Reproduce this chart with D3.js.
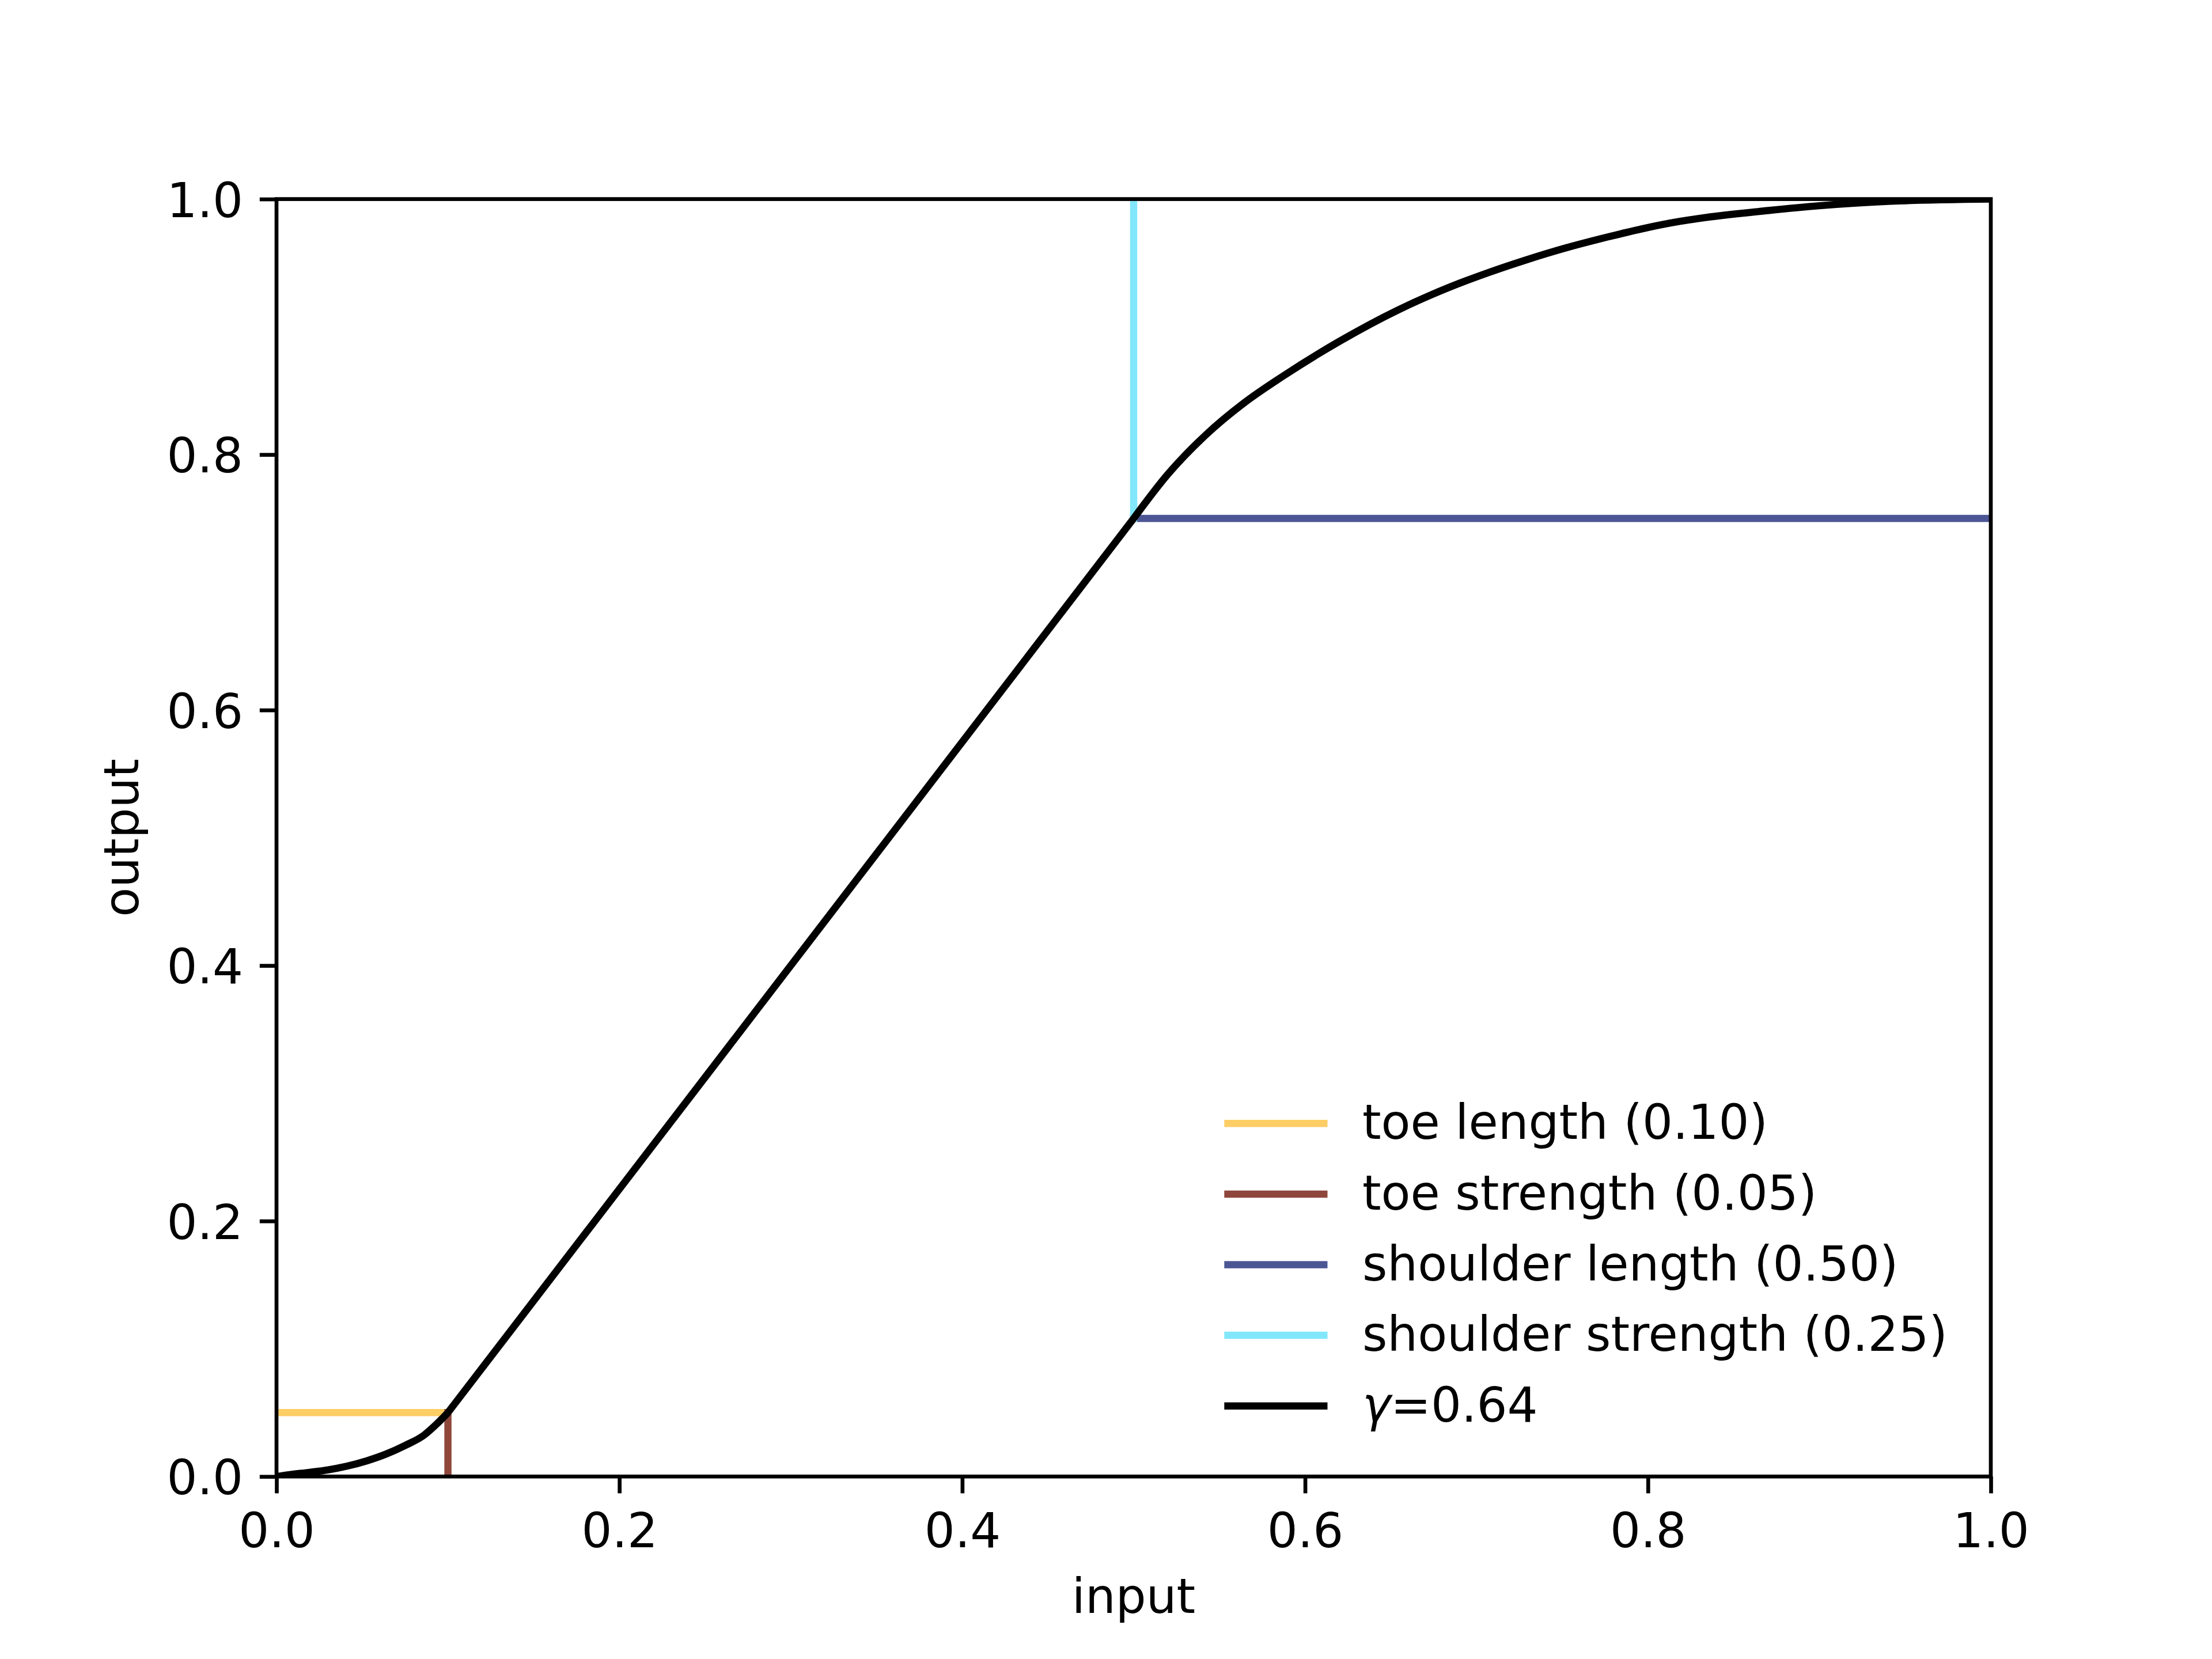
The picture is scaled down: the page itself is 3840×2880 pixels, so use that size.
<!DOCTYPE html>
<html>
<head>
    <meta charset="utf-8">
    <title>tone curve</title>
    <style>
        body { margin: 0; background: #fff; }
        text { font-family: "DejaVu Sans", sans-serif; }
    </style>
</head>
<body>

<main></main>

<script src="https://cdn.jsdelivr.net/npm/d3@7"></script>
<script>
    // curve (input -> output)
    // toe part, up to the toe length
    var toeX = [0, 0.0079, 0.019, 0.0302, 0.0414, 0.0527, 0.0638, 0.075, 0.0862, 0.0918, 0.1];
    var toeY = [0, 0.0015, 0.0032, 0.0052, 0.0082, 0.0123, 0.0175, 0.0243, 0.0325, 0.039, 0.05];
    // shoulder part, from the shoulder length on (straight line in between)
    var shoulderX = [0.5, 0.5197, 0.5421, 0.5645, 0.5869, 0.6205, 0.6541, 0.6844, 0.7068,
        0.7292, 0.7516, 0.774, 0.7964, 0.8188, 0.83, 0.87, 0.9, 0.94, 1.0];
    var shoulderY = [0.75, 0.7842, 0.8154, 0.8405, 0.8612, 0.889, 0.9131, 0.9311, 0.9424,
        0.9525, 0.9616, 0.9695, 0.9767, 0.9826, 0.9849, 0.991, 0.9948, 0.9982, 1.0];

    // parameters shown as guide lines
    var paramNames = ["toe length", "toe strength", "shoulder length", "shoulder strength"];
    var paramValues = [0.10, 0.05, 0.50, 0.25];
    var paramColors = ["#fdcd66", "#8f473c", "#4d5694", "#82e7fb"];
    var gammaValue = 0.64;

    // guide segments in data units, same order as the params
    var guideSegments = [
        [[0, 0.05], [0.10, 0.05]],
        [[0.10, 0], [0.10, 0.05]],
        [[0.50, 0.75], [1.0, 0.75]],
        [[0.50, 0.75], [0.50, 1.0]]
    ];

    var xTicks = [0, 0.2, 0.4, 0.6, 0.8, 1.0];
    var yTicks = [0, 0.2, 0.4, 0.6, 0.8, 1.0];

    // figure 6.4 x 4.8 in at 600 dpi
    var width = 3840;
    var height = 2880;
    var pt = 600 / 72;
    var fontSize = 10 * pt;
    var axLeft = 480, axRight = 3456, axTop = 345.6, axBottom = 2563.2;

    var svg = d3.select("main")
        .append("svg")
        .attr("width", width)
        .attr("height", height);

    var x = d3.scaleLinear().domain([0, 1]).range([axLeft, axRight]);
    var y = d3.scaleLinear().domain([0, 1]).range([axBottom, axTop]);

    svg.append("clipPath")
        .attr("id", "plotclip")
        .append("rect")
        .attr("x", axLeft).attr("y", axTop)
        .attr("width", axRight - axLeft).attr("height", axBottom - axTop);

    var plot = svg.append("g").attr("clip-path", "url(#plotclip)");

    var line = d3.line()
        .x(function (d) { return x(d[0]); })
        .y(function (d) { return y(d[1]); });
    var smooth = d3.line()
        .x(function (d) { return x(d[0]); })
        .y(function (d) { return y(d[1]); })
        .curve(d3.curveMonotoneX);

    plot.selectAll("path.guide")
        .data(guideSegments)
        .enter()
        .append("path")
        .attr("class", "guide")
        .attr("d", line)
        .attr("fill", "none")
        .attr("stroke", function (d, i) { return paramColors[i]; })
        .attr("stroke-width", 1.5 * pt)
        .attr("stroke-linecap", "square");

    var toe = toeX.map(function (d, i) { return [d, toeY[i]]; });
    var shoulder = shoulderX.map(function (d, i) { return [d, shoulderY[i]]; });
    // toe and shoulder smoothed, joined by a straight segment
    var curvePath = smooth(toe) + smooth(shoulder).replace(/^M/, "L");

    plot.append("path")
        .attr("d", curvePath)
        .attr("fill", "none")
        .attr("stroke", "#000")
        .attr("stroke-width", 1.5 * pt)
        .attr("stroke-linejoin", "round")
        .attr("stroke-linecap", "square");

    // axes
    var fmt = d3.format(".1f");
    var tickLen = 3.5 * pt;

    var gx = svg.append("g")
        .attr("transform", "translate(0," + axBottom + ")")
        .call(d3.axisBottom(x).tickValues(xTicks).tickFormat(fmt)
            .tickSize(tickLen).tickPadding(34.6));
    var gy = svg.append("g")
        .attr("transform", "translate(" + axLeft + ",0)")
        .call(d3.axisLeft(y).tickValues(yTicks).tickFormat(fmt)
            .tickSize(tickLen).tickPadding(28.8));

    [gx, gy].forEach(function (g) {
        g.select(".domain").remove();
        g.selectAll(".tick line").attr("stroke", "#000").attr("stroke-width", 0.8 * pt);
        g.selectAll(".tick text")
            .attr("fill", "#000")
            .attr("font-family", "DejaVu Sans")
            .attr("font-size", fontSize);
    });
    gy.selectAll(".tick text").attr("dy", "0.365em");

    // frame
    svg.append("rect")
        .attr("x", axLeft).attr("y", axTop)
        .attr("width", axRight - axLeft).attr("height", axBottom - axTop)
        .attr("fill", "none")
        .attr("stroke", "#000")
        .attr("stroke-width", 0.8 * pt);

    svg.append("text")
        .attr("x", (axLeft + axRight) / 2)
        .attr("y", 2800)
        .attr("text-anchor", "middle")
        .attr("font-size", fontSize)
        .text("input");

    svg.append("text")
        .attr("transform", "translate(240," + (axTop + axBottom) / 2 + ") rotate(-90)")
        .attr("text-anchor", "middle")
        .attr("font-size", fontSize)
        .text("output");

    // legend, lower right, no frame
    var legendItems = paramNames.map(function (n, i) {
        return { label: n + " (" + paramValues[i].toFixed(2) + ")", color: paramColors[i] };
    });
    legendItems.push({ label: null, color: "#000" });

    var rowStep = 122.6;
    var lastRowY = axBottom - 122.5;
    var legend = svg.append("g");

    var rows = legend.selectAll("g")
        .data(legendItems)
        .enter()
        .append("g")
        .attr("transform", function (d, i) {
            return "translate(0," + (lastRowY - (legendItems.length - 1 - i) * rowStep) + ")";
        });

    var labels = rows.append("text")
        .attr("y", 27)
        .attr("font-size", fontSize)
        .each(function (d) {
            var t = d3.select(this);
            if (d.label) {
                t.text(d.label);
            } else {
                t.append("tspan").attr("font-style", "italic").text("γ");
                t.append("tspan").text("=" + gammaValue.toFixed(2));
            }
        });

    var maxW = 0;
    labels.each(function () { maxW = Math.max(maxW, this.getComputedTextLength()); });
    var textX = axRight - 0.9 * fontSize - maxW;
    var handleEnd = textX - 0.8 * fontSize;
    var handleStart = handleEnd - 2.0 * fontSize;

    labels.attr("x", textX);
    rows.append("line")
        .attr("x1", handleStart).attr("x2", handleEnd)
        .attr("y1", 0).attr("y2", 0)
        .attr("stroke", function (d) { return d.color; })
        .attr("stroke-width", 1.5 * pt)
        .attr("stroke-linecap", "square");
</script>
</body>
</html>
